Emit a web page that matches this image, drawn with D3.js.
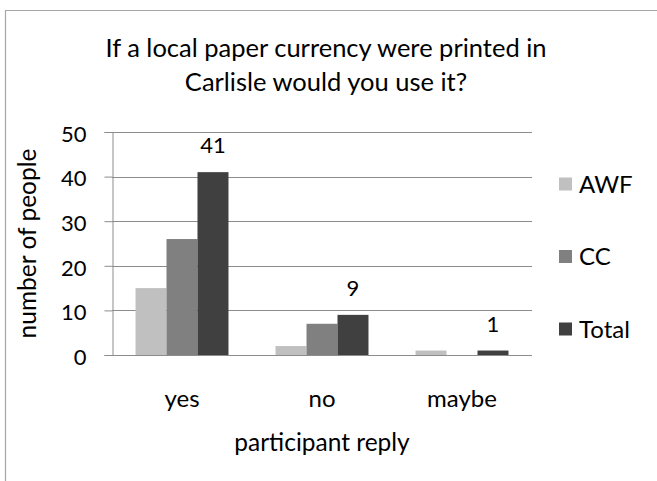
<!DOCTYPE html>
<html>
<head>
<meta charset="utf-8">
<script src="https://cdn.jsdelivr.net/npm/d3@7"></script>
<style>
  html, body { margin: 0; padding: 0; background: #ffffff; }
  svg { display: block; }
  text { font-family: Lato, "Open Sans", sans-serif; fill: #000000; }
</style>
</head>
<body>
<svg id="chart" width="657" height="481"></svg>
<script>
// Survey answers by participant group
const categories = ["yes", "no", "maybe"];
const seriesNames = ["AWF", "CC", "Total"];
const awfValues = [15, 2, 1];
const ccValues = [26, 7, 0];
const totalValues = [41, 9, 1];
const yTickValues = [0, 10, 20, 30, 40, 50];
const titleLines = ["If a local paper currency were printed in", "Carlisle would you use it?"];
const xAxisTitle = "participant reply";
const yAxisTitle = "number of people";
const seriesColors = ["#c0c0c0", "#808080", "#404040"];

const seriesValues = [awfValues, ccValues, totalValues];
const rows = categories.map((c, i) => ({
  category: c,
  values: seriesNames.map((s, j) => ({ series: s, value: seriesValues[j][i], idx: j }))
}));

const svg = d3.select("#chart");
const W = 657, H = 481;
const plot = { left: 112, right: 532, top: 132, bottom: 355 };
const numberSize = 22;   // digits
const labelSize = 24;    // words

// Chart-area border (open to the right and bottom)
svg.append("path")
  .attr("d", `M5.5,${H + 5} L5.5,10.5 L${W + 5},10.5`)
  .attr("fill", "none")
  .attr("stroke", "#a6a6a6")
  .attr("stroke-width", 1.2);

const x0 = d3.scaleBand()
  .domain(categories)
  .range([plot.left, plot.right])
  .paddingInner(0.336)
  .paddingOuter(0.168);

const x1 = d3.scaleBand()
  .domain(seriesNames)
  .range([0, x0.bandwidth()])
  .padding(0);

const y = d3.scaleLinear()
  .domain([0, 50])
  .range([plot.bottom, plot.top]);

const color = d3.scaleOrdinal().domain(seriesNames).range(seriesColors);

// Horizontal gridlines
svg.append("g")
  .selectAll("line")
  .data(yTickValues.filter(v => v > 0))
  .join("line")
  .attr("x1", plot.left)
  .attr("x2", plot.right)
  .attr("y1", d => Math.round(y(d)) + 0.5)
  .attr("y2", d => Math.round(y(d)) + 0.5)
  .attr("stroke", "#8c8c8c")
  .attr("stroke-width", 1);

// Bars
const groups = svg.append("g")
  .selectAll("g")
  .data(rows)
  .join("g")
  .attr("transform", d => `translate(${x0(d.category)},0)`);

groups.selectAll("rect")
  .data(d => d.values)
  .join("rect")
  .attr("x", d => x1(d.series))
  .attr("y", d => y(d.value))
  .attr("width", x1.bandwidth())
  .attr("height", d => y(0) - y(d.value))
  .attr("fill", d => color(d.series));

// Value labels on the Total series
groups.selectAll("text.value")
  .data(d => d.values.filter(v => v.series === "Total"))
  .join("text")
  .attr("class", "value")
  .attr("x", d => x1(d.series) + x1.bandwidth() / 2)
  .attr("y", d => y(d.value) - 19)
  .attr("text-anchor", "middle")
  .attr("font-size", numberSize)
  .text(d => d.value);

// Y axis
const yAxis = d3.axisLeft(y)
  .tickValues(yTickValues)
  .tickSize(8)
  .tickPadding(18)
  .tickFormat(d3.format("d"));

const yAxisG = svg.append("g")
  .attr("transform", `translate(${plot.left + 0.5},0)`)
  .call(yAxis);
yAxisG.select(".domain").attr("stroke", "#8c8c8c");
yAxisG.selectAll(".tick line").attr("stroke", "#8c8c8c");
yAxisG.selectAll(".tick text")
  .attr("font-size", numberSize)
  .attr("font-family", "Lato, sans-serif")
  .attr("fill", "#000")
  .attr("dy", "0.42em");

// X axis
const xAxis = d3.axisBottom(x0).tickSize(0).tickPadding(51);
const xAxisG = svg.append("g")
  .attr("transform", `translate(0,${Math.round(plot.bottom) + 0.5})`)
  .call(xAxis);
xAxisG.select(".domain")
  .attr("stroke", "#8c8c8c")
  .attr("d", `M${plot.left},0H${plot.right}`);
xAxisG.selectAll(".tick text")
  .attr("font-size", labelSize)
  .attr("font-family", "Lato, sans-serif")
  .attr("fill", "#000")
  .attr("dy", "0");

// Title
svg.append("g")
  .selectAll("text")
  .data(titleLines)
  .join("text")
  .attr("x", 326)
  .attr("y", (d, i) => 57 + i * 34)
  .attr("text-anchor", "middle")
  .attr("font-size", 25.5)
  .text(d => d);

// Axis titles
svg.append("text")
  .attr("x", (plot.left + plot.right) / 2)
  .attr("y", 451)
  .attr("text-anchor", "middle")
  .attr("font-size", labelSize + 0.5)
  .text(xAxisTitle);

svg.append("text")
  .attr("transform", `translate(36,${(plot.top + plot.bottom) / 2}) rotate(-90)`)
  .attr("text-anchor", "middle")
  .attr("font-size", labelSize + 0.5)
  .text(yAxisTitle);

// Legend
const legend = svg.append("g")
  .selectAll("g")
  .data(seriesNames)
  .join("g")
  .attr("transform", (d, i) => `translate(559,${184 + i * 72.5})`);

legend.append("rect")
  .attr("x", 0)
  .attr("y", -6.5)
  .attr("width", 13)
  .attr("height", 13)
  .attr("fill", d => color(d));

legend.append("text")
  .attr("x", 20)
  .attr("y", 8.5)
  .attr("font-size", labelSize)
  .text(d => d);
</script>
</body>
</html>
